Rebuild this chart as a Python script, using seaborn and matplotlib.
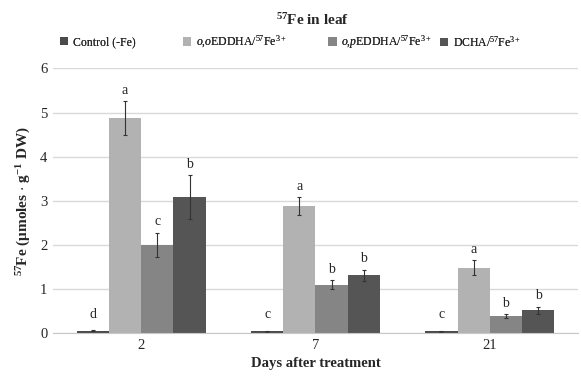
import pandas as pd
import numpy as np
import matplotlib
matplotlib.use("Agg")
import matplotlib.pyplot as plt
import seaborn as sns

# data
days = ["2", "7", "21"]
treatments = ["Control (-Fe)",
              r"$\mathit{o{,}o}$EDDHA/$^{57}$Fe$^{3+}$",
              r"$\mathit{o{,}p}$EDDHA/$^{57}$Fe$^{3+}$",
              r"DCHA/$^{57}$Fe$^{3+}$"]
control = [0.05, 0.04, 0.04]
oo_eddha = [4.88, 2.88, 1.48]
op_eddha = [2.00, 1.10, 0.39]
dcha = [3.09, 1.31, 0.52]
control_err = [0.01, 0.01, 0.01]
oo_err = [0.38, 0.21, 0.17]
op_err = [0.28, 0.10, 0.04]
dcha_err = [0.50, 0.13, 0.08]
letters_control = ["d", "c", "c"]
letters_oo = ["a", "a", "a"]
letters_op = ["c", "b", "b"]
letters_dcha = ["b", "b", "b"]

colors = ["#4b4b4b", "#b2b2b2", "#858585", "#555555"]

sns.set_style("white")
plt.rcParams["font.family"] = ["Liberation Serif", "DejaVu Serif"]
plt.rcParams["mathtext.fontset"] = "custom"
plt.rcParams["mathtext.rm"] = "Liberation Serif"
plt.rcParams["mathtext.it"] = "Liberation Serif:italic"
plt.rcParams["mathtext.bf"] = "Liberation Serif:bold"
plt.rcParams["mathtext.default"] = "regular"

values = [control, oo_eddha, op_eddha, dcha]
errs = [control_err, oo_err, op_err, dcha_err]
letters = [letters_control, letters_oo, letters_op, letters_dcha]

rows = []
for t, vals in zip(treatments, values):
    for d, v in zip(days, vals):
        rows.append({"Day": d, "Treatment": t, "Fe": v})
df = pd.DataFrame(rows)

fig = plt.figure(figsize=(5.81, 3.76), dpi=100)
ax = fig.add_axes([0.091, 0.114, 0.904, 0.704])

sns.barplot(data=df, x="Day", y="Fe", hue="Treatment", order=days,
            hue_order=treatments, palette=colors, width=0.74,
            errorbar=None, linewidth=0, saturation=1, ax=ax)

# error bars and significance letters
bar_conts = list(ax.containers)
for i, cont in enumerate(bar_conts):
    for j, bar in enumerate(cont):
        x = bar.get_x() + bar.get_width() / 2
        h = bar.get_height()
        e = errs[i][j]
        ax.errorbar(x, h, yerr=e, fmt="none", ecolor="#333333",
                    elinewidth=0.8, capsize=1.5, capthick=0.8)
        ax.annotate(letters[i][j], (x, h + e), xytext=(0, 3 if i else 7),
                    textcoords="offset points", ha="center", va="bottom",
                    fontsize=10)

ax.set_ylim(0, 6)
ax.set_yticks(range(7))
ax.yaxis.grid(True, color="#d9d9d9", linewidth=1)
ax.set_axisbelow(True)
for s in ["top", "right", "left"]:
    ax.spines[s].set_visible(False)
ax.spines["bottom"].set_color("#c8c8c8")
ax.tick_params(axis="both", labelsize=10.5, length=0, pad=4)

ax.set_xlabel("Days after treatment", fontsize=10.5, fontweight="bold", labelpad=4)
ax.set_ylabel(r"$^{57}$Fe ($\mu$moles $\cdot$ g$^{-1}$ DW)", fontsize=11,
              fontweight="bold", labelpad=5)
fig.text(0.538, 0.947, r"$^{57}$Fe in leaf", ha="center", va="center",
         fontsize=11, fontweight="bold")

# legend entries spaced like the original (one small legend per entry)
handles, labels = ax.get_legend_handles_labels()
ax.get_legend().remove()
leg_x = [0.103, 0.315, 0.565, 0.757]
for h, l, lx in zip(handles, labels, leg_x):
    lg = fig.legend([h], [l], loc="center left", bbox_to_anchor=(lx, 0.888),
                    frameon=False, fontsize=8.5, handlelength=0.7,
                    handleheight=0.7, handletextpad=0.4, borderpad=0,
                    borderaxespad=0)
    fig.add_artist(lg)

fig.savefig("out.png", dpi=100)
